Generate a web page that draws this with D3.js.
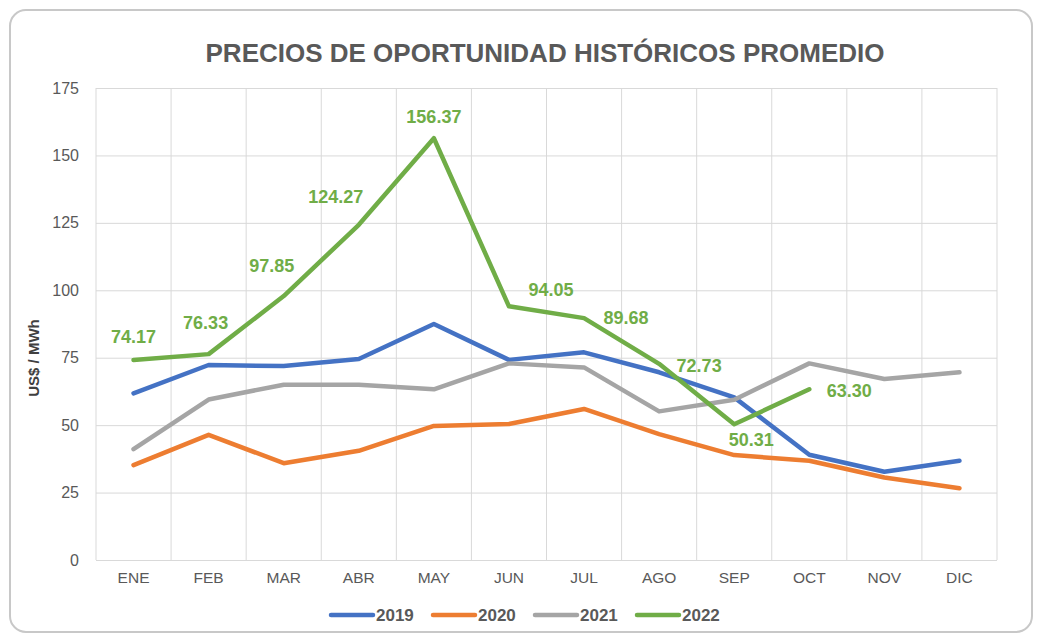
<!DOCTYPE html>
<html>
<head>
<meta charset="utf-8">
<script src="https://cdn.jsdelivr.net/npm/d3@7"></script>
<style>
  body { margin: 0; background: #fff; }
  text { font-family: "Liberation Sans", Arial, sans-serif; }
</style>
</head>
<body>
<div id="chart"></div>
<script>
// Data
var months = ["ENE", "FEB", "MAR", "ABR", "MAY", "JUN", "JUL", "AGO", "SEP", "OCT", "NOV", "DIC"];
var years = ["2019", "2020", "2021", "2022"];
var v2019 = [61.8, 72.3, 71.9, 74.5, 87.5, 74.2, 77.0, 69.6, 60.3, 39.0, 32.7, 36.8];
var v2020 = [35.2, 46.4, 35.9, 40.5, 49.7, 50.4, 56.0, 46.7, 38.9, 36.8, 30.6, 26.6];
var v2021 = [41.1, 59.5, 65.0, 65.0, 63.3, 72.9, 71.4, 55.1, 59.4, 72.9, 67.1, 69.6];
var v2022 = [74.17, 76.33, 97.85, 124.27, 156.37, 94.05, 89.68, 72.73, 50.31, 63.30];
var yTicks = [0, 25, 50, 75, 100, 125, 150, 175];

var colors = ["#4472C4", "#ED7D31", "#A5A5A5", "#70AD47"];
// label placement for 2022 values (offset from point)
var labelDx = [0, -3, -12, -23, 0, 42, 42, 40, 17, 40];
var labelDy = [-23, -31, -30, -28, -22, -17, 0, 2, 15, 1];

//Set Margins
var W = 1039, H = 636;
var margin = {top: 88, right: 42, bottom: 76, left: 96},
    width = W - margin.left - margin.right,
    height = H - margin.top - margin.bottom;

var svg = d3.select("#chart")
  .append("svg")
    .attr("width", W)
    .attr("height", H);

// outer frame
svg.append("rect")
  .attr("x", 10).attr("y", 10)
  .attr("width", 1022).attr("height", 622)
  .attr("rx", 16)
  .attr("fill", "#fff")
  .attr("stroke", "#c8c8c8")
  .attr("stroke-width", 2);

var g = svg.append("g")
  .attr("transform", "translate(" + margin.left + "," + margin.top + ")");

//X scale
var x = d3.scaleBand()
  .domain(months)
  .range([0, width])
  .padding(0);

//Y scale
var y = d3.scaleLinear()
  .domain([0, 175])
  .range([height, 0]);

// vertical gridlines at category boundaries
var xEdges = months.map(function(m) { return x(m); }).concat([width]);
g.selectAll(".vgrid")
  .data(xEdges)
  .enter()
  .append("line")
    .attr("x1", function(d) { return d; })
    .attr("x2", function(d) { return d; })
    .attr("y1", 0)
    .attr("y2", height)
    .attr("stroke", "#d9d9d9")
    .attr("stroke-width", 1);

//Y axis with horizontal gridlines
var yAxis = g.append("g")
  .call(d3.axisLeft(y).tickValues(yTicks).tickSize(-width).tickPadding(17));
yAxis.select(".domain").remove();
yAxis.selectAll("line").attr("stroke", "#d9d9d9");
yAxis.selectAll("text")
  .attr("fill", "#595959")
  .style("font-size", "16px");

//X axis labels
var xAxis = g.append("g")
  .attr("transform", "translate(0," + height + ")")
  .call(d3.axisBottom(x).tickSize(0).tickPadding(12));
xAxis.select(".domain").remove();
xAxis.selectAll("text")
  .attr("fill", "#595959")
  .style("font-size", "15.5px");

//Lines
var series = [v2019, v2020, v2021, v2022];
var line = d3.line()
  .x(function(d, i) { return x(months[i]) + x.bandwidth() / 2; })
  .y(function(d) { return y(d); });

g.selectAll(".serie")
  .data(series)
  .enter()
  .append("path")
    .attr("d", line)
    .attr("fill", "none")
    .attr("stroke", function(d, i) { return colors[i]; })
    .attr("stroke-width", 4.5)
    .attr("stroke-linejoin", "round")
    .attr("stroke-linecap", "round");

//Data labels for 2022
g.selectAll(".lbl")
  .data(v2022)
  .enter()
  .append("text")
    .attr("x", function(d, i) { return x(months[i]) + x.bandwidth() / 2 + labelDx[i]; })
    .attr("y", function(d, i) { return y(d) + labelDy[i]; })
    .attr("dy", "0.35em")
    .attr("text-anchor", "middle")
    .attr("fill", "#70AD47")
    .style("font-size", "18px")
    .style("font-weight", "bold")
    .text(function(d) { return d.toFixed(2); });

//Y label
svg.append("text")
  .attr("transform", "translate(39," + (margin.top + height / 2 + 34) + ")rotate(-90)")
  .attr("text-anchor", "middle")
  .attr("fill", "#404040")
  .style("font-size", "15px")
  .style("font-weight", "bold")
  .text("US$ / MWh");

//Title
svg.append("text")
  .attr("x", 545)
  .attr("y", 62)
  .attr("text-anchor", "middle")
  .attr("fill", "#595959")
  .style("font-size", "26px")
  .style("font-weight", "bold")
  .text("PRECIOS DE OPORTUNIDAD HISTÓRICOS PROMEDIO");

//Legend
var legend = svg.append("g")
  .attr("transform", "translate(331,615)");
var item = legend.selectAll(".leg")
  .data(years)
  .enter()
  .append("g")
    .attr("transform", function(d, i) { return "translate(" + (i * 102) + ",0)"; });
item.append("line")
  .attr("x1", 0).attr("x2", 42)
  .attr("y1", 0).attr("y2", 0)
  .attr("stroke", function(d, i) { return colors[i]; })
  .attr("stroke-width", 4.5)
  .attr("stroke-linecap", "round");
item.append("text")
  .attr("x", 45)
  .attr("dy", "0.36em")
  .attr("fill", "#595959")
  .style("font-size", "17px")
  .style("font-weight", "bold")
  .text(function(d) { return d; });
</script>
</body>
</html>
